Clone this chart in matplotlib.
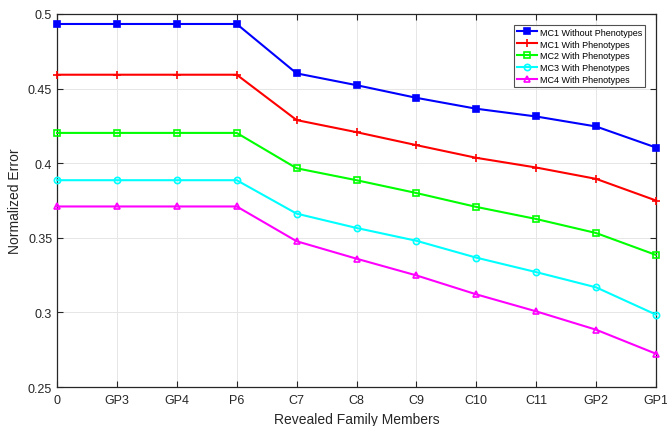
import matplotlib
matplotlib.use("Agg")
import matplotlib.pyplot as plt
import numpy as np

plt.rcParams['font.family'] = ['Liberation Sans', 'DejaVu Sans']

members = ["0", "GP3", "GP4", "P6", "C7", "C8", "C9", "C10", "C11", "GP2", "GP1"]

mc1_without = [0.4933, 0.4933, 0.4933, 0.4933, 0.4602, 0.4523, 0.4438, 0.4365, 0.4313, 0.4246, 0.4105]
mc1_with = [0.4593, 0.4593, 0.4593, 0.4593, 0.4289, 0.4208, 0.4121, 0.4036, 0.3971, 0.3895, 0.3750]
mc2_with = [0.4203, 0.4203, 0.4203, 0.4203, 0.3966, 0.3886, 0.3800, 0.3707, 0.3626, 0.3532, 0.3385]
mc3_with = [0.3886, 0.3886, 0.3886, 0.3886, 0.3662, 0.3566, 0.3480, 0.3367, 0.3270, 0.3168, 0.2985]
mc4_with = [0.3710, 0.3710, 0.3710, 0.3710, 0.3477, 0.3360, 0.3248, 0.3121, 0.3007, 0.2884, 0.2723]

series = [
    ("MC1 Without Phenotypes", mc1_without, "#0000ff", "s", True),
    ("MC1 With Phenotypes", mc1_with, "#ff0000", "+", False),
    ("MC2 With Phenotypes", mc2_with, "#00ff00", "s", False),
    ("MC3 With Phenotypes", mc3_with, "#00ffff", "o", False),
    ("MC4 With Phenotypes", mc4_with, "#ff00ff", "^", False),
]

fig = plt.figure(figsize=(6.67, 4.27), dpi=100)
ax = fig.add_axes([0.0855, 0.0913, 0.898, 0.8736])

x = np.arange(len(members))
for label, vals, color, marker, filled in series:
    ax.plot(x, vals, color=color, marker=marker, lw=1.5,
            ms=6 if marker == "+" else 4.5,
            markerfacecolor=color if filled else "none",
            markeredgecolor=color, markeredgewidth=1.2, label=label,
            clip_on=False, zorder=3)

ax.set_xlim(0, len(members) - 1)
ax.set_ylim(0.25, 0.5)
ax.set_xticks(x)
ax.set_xticklabels(members)
ax.set_yticks([0.25, 0.3, 0.35, 0.4, 0.45, 0.5])
ax.set_yticklabels(["0.25", "0.3", "0.35", "0.4", "0.45", "0.5"])
ax.tick_params(direction="in", length=4, width=0.8, labelsize=9,
               colors="#262626", top=True, right=True)
ax.tick_params(axis="x", pad=5)
ax.grid(True, color="#e6e6e6", lw=0.7)
ax.set_axisbelow(True)
for s in ax.spines.values():
    s.set_color("#262626")
    s.set_linewidth(0.9)

ax.set_xlabel("Revealed Family Members", fontsize=10, color="#262626", labelpad=4)
ax.set_ylabel("Normalized Error", fontsize=10, color="#262626", labelpad=4)

leg = ax.legend(loc="upper right", fontsize=6.5, frameon=True, fancybox=False,
                edgecolor="#262626", borderpad=0.3, handlelength=2.3,
                handletextpad=0.3, labelspacing=0.33, borderaxespad=1.2)
leg.get_frame().set_linewidth(0.8)
leg.set_zorder(5)

fig.savefig("out.png", dpi=100)
